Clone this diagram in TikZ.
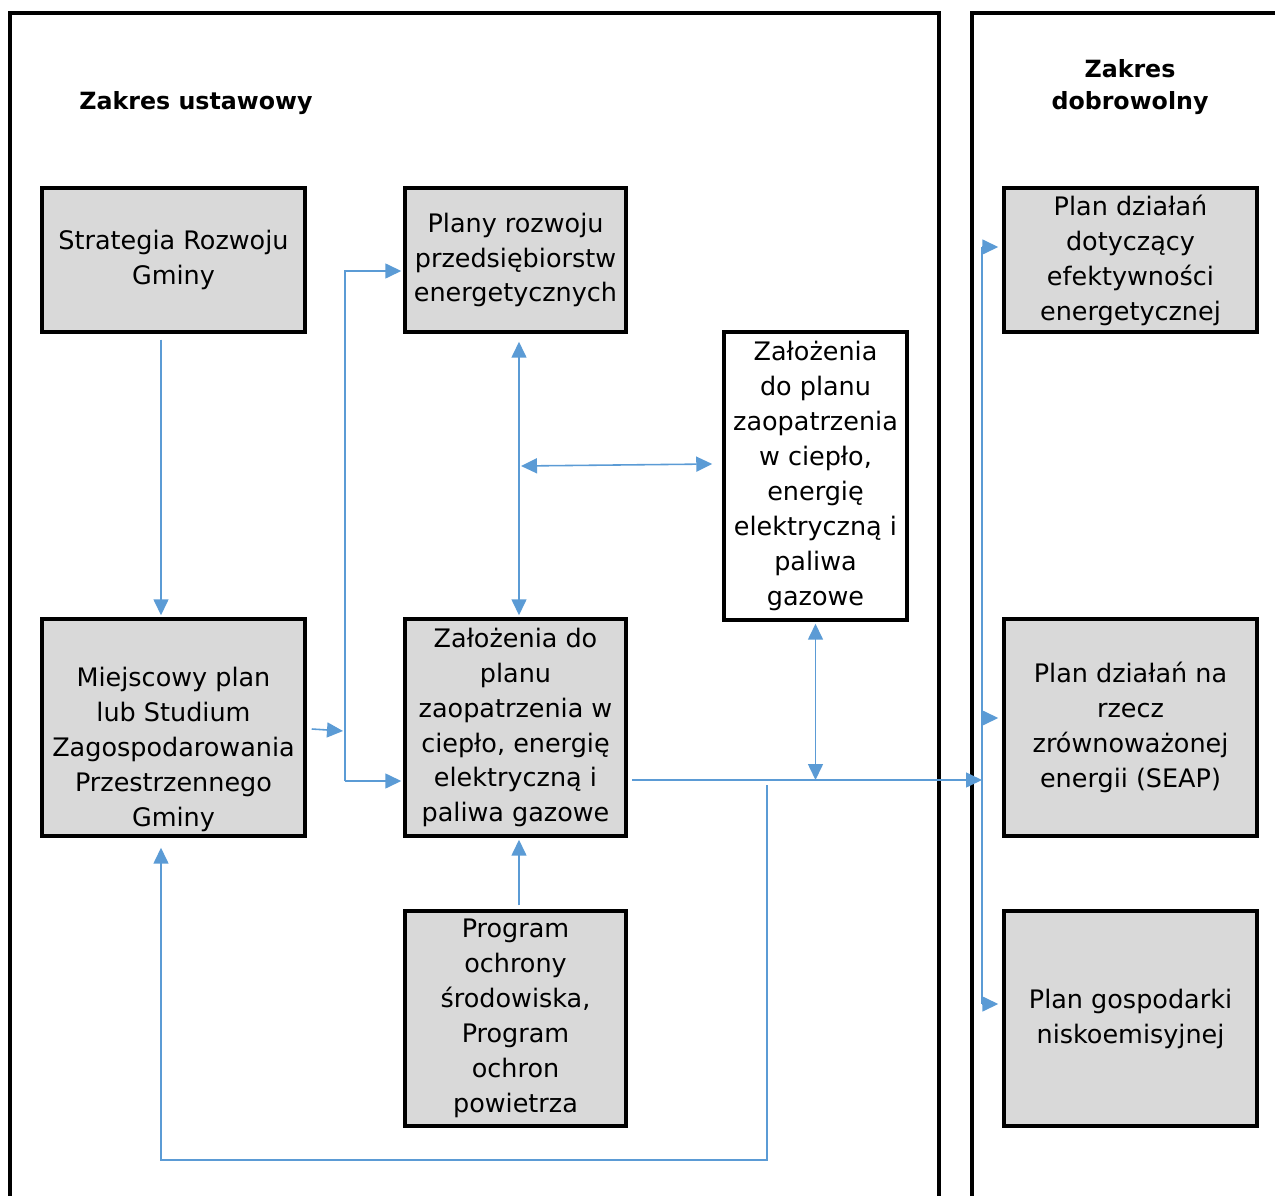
\documentclass[tikz,border=0pt]{standalone}
\usepackage{fontspec}
\setmainfont{DejaVu Sans}
\usepackage{tikz}
\usetikzlibrary{arrows.meta}
\usetikzlibrary{calc}

\definecolor{boxgray}{HTML}{D9D9D9}
\definecolor{lineblue}{HTML}{5B9BD5}

\tikzset{
    box/.style={draw=black, line width=2pt, fill=boxgray, align=center,
        font=\fontsize{14.5}{19.9}\selectfont, inner sep=2pt},
    whitebox/.style={box, fill=white},
    txt/.style={align=center, font=\fontsize{14.5}{19.9}\selectfont},
    title/.style={align=center, font=\fontsize{13.5}{18.2}\selectfont\bfseries},
    frame/.style={draw=black, line width=2pt},
    link/.style={draw=lineblue, line width=0.9pt},
    arr/.style={link, -{Triangle[length=0.32cm,width=0.3cm]}},
    dblarr/.style={link, {Triangle[length=0.32cm,width=0.3cm]}-{Triangle[length=0.32cm,width=0.3cm]}}
}

\begin{document}
\begin{tikzpicture}[x=0.02cm, y=-0.02cm]

        \useasboundingbox (0,0) rectangle (1275,1196);
        \clip (0,0) rectangle (1275,1196);

        % frames of both ranges
        \draw[frame] (10,1210) -- (10,13) -- (939,13) -- (939,1210);
        \draw[frame] (972,1210) -- (972,13) -- (1290,13);

        \node[title] (ustawowy) at (196,103) {Zakres ustawowy};
        \node[title] (dobrowolny) at (1130,87) {Zakres\\dobrowolny};

        % statutory range
        \node[box, minimum width=5.26cm, minimum height=2.88cm] (strategia) at (173.5,260) {Strategia Rozwoju\\Gminy};
        \node[box, minimum width=4.42cm, minimum height=2.88cm] (plany) at (515.5,260) {Plany rozwoju\\przedsiębiorstw\\energetycznych};
        \node[whitebox, minimum width=3.66cm, minimum height=5.76cm] (zalozenia) at (815.5,476) {Założenia\\do planu\\zaopatrzenia\\w ciepło,\\energię\\elektryczną i\\paliwa\\gazowe};
        \node[box, minimum width=5.26cm, minimum height=4.34cm] (miejscowy) at (173.5,727.5) {};
        \node[txt] (miejscowyT) at ($(miejscowy.center)+(0,22)$) {Miejscowy plan\\lub Studium\\Zagospodarowania\\Przestrzennego\\Gminy};
        \node[box, minimum width=4.42cm, minimum height=4.34cm] (zalplan) at (515.5,727.5) {Założenia do\\planu\\zaopatrzenia w\\ciepło, energię\\elektryczną i\\paliwa gazowe};
        \node[box, minimum width=4.42cm, minimum height=4.30cm] (program) at (515.5,1018.5) {Program\\ochrony\\środowiska,\\Program\\ochron\\powietrza};

        % voluntary range
        \node[box, minimum width=5.06cm, minimum height=2.88cm] (dzialania) at (1130.5,260) {Plan działań\\dotyczący\\efektywności\\energetycznej};
        \node[box, minimum width=5.06cm, minimum height=4.34cm] (seap) at (1130.5,727.5) {Plan działań na\\rzecz\\zrównoważonej\\energii (SEAP)};
        \node[box, minimum width=5.06cm, minimum height=4.30cm] (pgn) at (1130.5,1018.5) {Plan gospodarki\\niskoemisyjnej};

        \coordinate (busT) at (345,271);
        \coordinate (busB) at (345,781);
        \coordinate (busM) at (343,731);
        \coordinate (hj) at (521,466);
        \coordinate (mainL) at (632,780);
        \coordinate (rbus) at (982,780);
        \coordinate (rT) at (982,247);
        \coordinate (rS) at (982,718);
        \coordinate (rB) at (982,1004);
        \coordinate (fb) at (767,785);
        \coordinate (fbC) at (161,1160);

        \draw[arr] ($(strategia.south)+(-12.5,6)$) -- ($(miejscowy.north)+(-12.5,-2)$);
        \draw[arr] (busB) -- (busT) -- ($(busT -| plany.west)+(-2,0)$);
        \draw[arr] (busB) -- ($(busB -| zalplan.west)+(-2,0)$);
        \draw[arr] ($(miejscowy.east)+(5,1.5)$) -- (busM);
        \draw[dblarr] ($(plany.south)+(3.5,8)$) -- ($(zalplan.north)+(3.5,-2)$);
        \draw[dblarr] (hj) -- ($(hj -| zalozenia.west)+(-10,-2)$);
        \draw[arr] ($(program.north)+(3.5,-4)$) -- ($(zalplan.south)+(3.5,2)$);
        \draw[dblarr] ($(zalozenia.south)+(0,2)$) -- (zalozenia.south |- mainL);
        \draw[arr] (mainL) -- (rbus);
        \draw[link, line width=1.2pt] (rT) -- (rB);
        \draw[arr] (rT) -- ($(rT -| dzialania.west)+(-4,0)$);
        \draw[arr] (rS) -- ($(rS -| seap.west)+(-4,0)$);
        \draw[arr] (rB) -- ($(rB -| pgn.west)+(-4,0)$);
        \draw[arr] (fb) |- (fbC) -- ($(fbC |- miejscowy.south)+(0,10)$);

\end{tikzpicture}
\end{document}
